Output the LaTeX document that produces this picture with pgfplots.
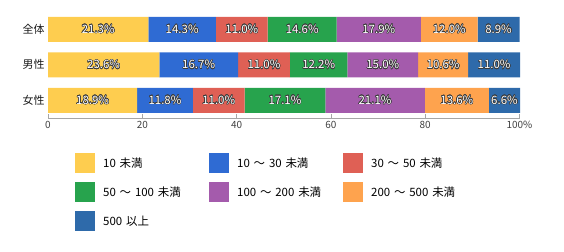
\documentclass[border=0pt]{standalone}
\usepackage{pgfplots}
\usepackage{pgfplotstable}
\pgfplotsset{compat=1.18}
\usepackage{fontspec}
\setmainfont{Noto Sans CJK JP}
\usepackage{contour}
\contourlength{0.45pt}
\contournumber{16}
\definecolor{c1}{HTML}{FECD4F}
\definecolor{c2}{HTML}{2F6BD3}
\definecolor{c3}{HTML}{DF6055}
\definecolor{c4}{HTML}{27A34D}
\definecolor{c5}{HTML}{A45BAC}
\definecolor{c6}{HTML}{FEA34E}
\definecolor{c7}{HTML}{2E6AAA}
\definecolor{outl}{HTML}{3A3A3A}
\pgfplotstableread{
y a b c d e f g
0 21.3 14.3 11.0 14.6 17.9 12.0 8.9
1 23.6 16.7 11.0 12.2 15.0 10.6 11.0
2 18.9 11.8 11.0 17.1 21.1 13.6 6.6
}\data
\begin{document}
\begin{tikzpicture}
\begin{axis}[
  name=ax,
  xbar stacked,
  scale only axis,
  width=472bp, height=106.5bp,
  xmin=0, xmax=100.1, ymin=-0.5, ymax=2.5,
  y dir=reverse,
  bar width=25bp,
  ytick={0,1,2}, yticklabels={全体,男性,女性},
  xtick={0,20,40,60,80,100}, xticklabels={0,20,40,60,80,100\%},
  axis x line*=bottom, axis y line*=left,
  y axis line style={draw=none}, ytick style={draw=none},
  x axis line style={draw=gray!70, line width=0.6pt},
  xtick style={draw=gray!70, line width=0.6pt},
  tick align=inside, major tick length=4bp,
  x tick label style={font=\fontsize{10}{12}\selectfont, text=black!75},
  y tick label style={font=\fontsize{11}{13}\selectfont, text=black!90},
  /pgf/number format/assume math mode=true,
  point meta=rawx,
  nodes near coords={\contour{outl}{\pgfmathprintnumber[fixed,fixed zerofill,precision=1]{\pgfplotspointmeta}\%}},
  every node near coord/.append style={anchor=center, text=white, font=\fontsize{11.5}{13}\selectfont},
  legend columns=3,
  legend style={at={(axis description cs:0.0572,-0.33)}, anchor=north west, draw=none, inner sep=0pt,
    font=\fontsize{11.5}{13}\selectfont, row sep=9bp,
    nodes={inner sep=0pt, text width=100bp, align=left},
    /tikz/every odd column/.append style={column sep=8bp},
    /tikz/every even column/.append style={column sep=6bp}},
  legend image code/.code={\fill[#1] (0bp,-10bp) rectangle (20bp,10bp);},
]
\addplot[fill=c1, draw=none] table[x=a, y=y] {\data};
\addplot[fill=c2, draw=none] table[x=b, y=y] {\data};
\addplot[fill=c3, draw=none] table[x=c, y=y] {\data};
\addplot[fill=c4, draw=none] table[x=d, y=y] {\data};
\addplot[fill=c5, draw=none] table[x=e, y=y] {\data};
\addplot[fill=c6, draw=none] table[x=f, y=y] {\data};
\addplot[fill=c7, draw=none] table[x=g, y=y] {\data};
\legend{10 未満, 10 ～ 30 未満, 30 ～ 50 未満, 50 ～ 100 未満, 100 ～ 200 未満, 200 ～ 500 未満, 500 以上}
\end{axis}
\path (ax.south west) ++(-48bp,-134bp) rectangle ++(564bp,252bp);
\end{tikzpicture}
\end{document}
